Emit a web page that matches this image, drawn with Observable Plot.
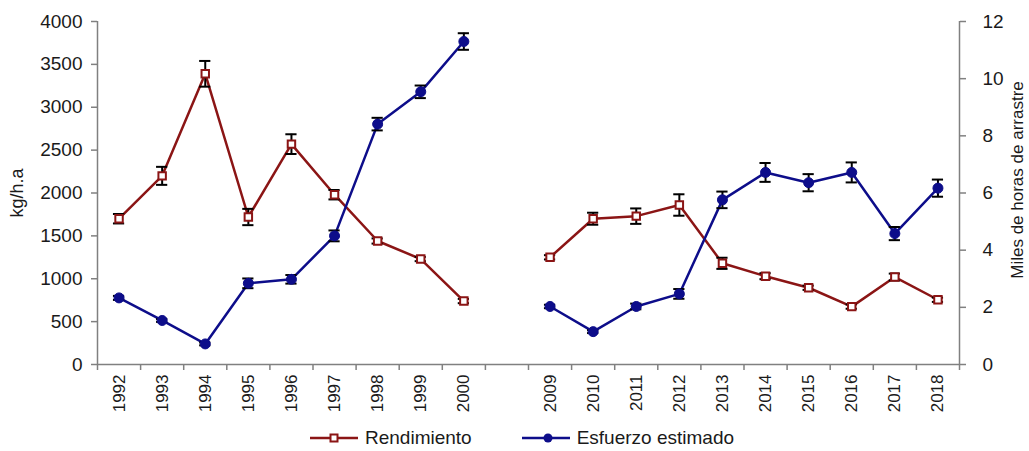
<!DOCTYPE html>
<html>
<head>
<meta charset="utf-8">
<script src="https://cdn.jsdelivr.net/npm/d3@7"></script>
<script src="https://cdn.jsdelivr.net/npm/@observablehq/plot@0.6"></script>
<style>
  html, body { margin: 0; padding: 0; background: #fff; }
  body { width: 1029px; height: 451px; overflow: hidden; font-family: "Liberation Sans", Arial, sans-serif; color: #1a1a1a; }
  #legend { display: flex; justify-content: center; align-items: center; height: 27px; padding-top: 4px; padding-left: 15px; font-size: 19px; }
  #legend .item { display: flex; align-items: center; }
  #legend svg { display: block; }
</style>
</head>
<body>
<div id="chart"></div>
<div id="legend"></div>
<script>
// Year slots (null = empty gap slot between 2000 and 2009)
const years = [1992, 1993, 1994, 1995, 1996, 1997, 1998, 1999, 2000, null,
               2009, 2010, 2011, 2012, 2013, 2014, 2015, 2016, 2017, 2018];
// Rendimiento (kg/h.a), left axis
const rendimiento = [1700, 2200, 3390, 1720, 2570, 1980, 1440, 1230, 740, null,
                     1250, 1700, 1730, 1860, 1180, 1030, 895, 675, 1020, 755];
const rendimientoErr = [55, 105, 150, 95, 115, 55, 30, 25, 25, null,
                        25, 70, 90, 125, 65, 35, 25, 25, 40, 25];
// Esfuerzo estimado (miles de horas de arrastre), right axis
const esfuerzo = [2.33, 1.54, 0.72, 2.84, 2.98, 4.50, 8.41, 9.54, 11.30, null,
                  2.03, 1.15, 2.03, 2.47, 5.76, 6.72, 6.36, 6.72, 4.58, 6.17];
const esfuerzoErr = [0.07, 0.05, 0.05, 0.17, 0.15, 0.19, 0.22, 0.22, 0.29, null,
                     0.06, 0.05, 0.10, 0.17, 0.29, 0.33, 0.30, 0.35, 0.23, 0.30];
const leftTicks = [0, 500, 1000, 1500, 2000, 2500, 3000, 3500, 4000];
const rightTicks = [0, 2, 4, 6, 8, 10, 12];
const seriesNames = ["Rendimiento", "Esfuerzo estimado"];
const leftLabel = "kg/h.a";
const rightLabel = "Miles de horas de arrastre";

const RED = "#8b1515";
const BLUE = "#0d0d8a";
const AXIS = "#808080";
const k = 4000 / 12; // right-axis units -> left-axis units

const rows = years.map((year, i) => ({
  i, year,
  r: rendimiento[i], rErr: rendimientoErr[i],
  e: esfuerzo[i] == null ? null : esfuerzo[i] * k,
  eErr: esfuerzoErr[i] == null ? null : esfuerzoErr[i] * k
}));
const valid = rows.filter(d => d.year != null);
const capHalf = 0.13;

const chart = Plot.plot({
  width: 1029,
  height: 420,
  marginLeft: 97,
  marginRight: 70,
  marginTop: 21,
  marginBottom: 56,
  style: { fontFamily: "'Liberation Sans', Arial, sans-serif", color: "#1a1a1a", background: "#fff" },
  x: { type: "linear", domain: [-0.5, years.length - 0.5] },
  y: { domain: [0, 4000] },
  marks: [
    // axes lines
    Plot.ruleY([0], { stroke: AXIS, strokeWidth: 1.5 }),
    Plot.ruleX([-0.5, years.length - 0.5], { stroke: AXIS, strokeWidth: 1.5 }),
    // left axis
    Plot.axisY({ anchor: "left", ticks: leftTicks, tickFormat: d => String(d), tickSize: 6, tickPadding: 9, fontSize: 19, label: null, stroke: AXIS, strokeWidth: 1.5 }),
    // right axis
    Plot.axisY({ anchor: "right", ticks: rightTicks.map(v => v * k), tickFormat: v => String(Math.round(v / k)),
                 tickSize: 6, tickPadding: 17, fontSize: 19, label: null, stroke: AXIS, strokeWidth: 1.5 }),
    // x tick marks at slot boundaries
    Plot.axisX({ ticks: d3.range(years.length + 1).map(j => j - 0.5), tickSize: 6, tickFormat: () => "", label: null, stroke: AXIS, strokeWidth: 1.5 }),
    // x labels at slot centres
    Plot.axisX({ ticks: valid.map(d => d.i), tickFormat: j => String(years[j]), tickSize: 0, tickPadding: 10,
                 tickRotate: -90, fontSize: 17, label: null }),
    // axis titles
    Plot.text([leftLabel], { frameAnchor: "left", textAnchor: "middle", dx: -80, rotate: -90, fontSize: 18, fill: "#1a1a1a" }),
    Plot.text([rightLabel], { frameAnchor: "right", textAnchor: "middle", dx: 58, dy: -13, rotate: -90, fontSize: 17, fill: "#1a1a1a" }),
    // lines
    Plot.line(rows, { x: "i", y: "r", stroke: RED, strokeWidth: 2.5 }),
    Plot.line(rows, { x: "i", y: "e", stroke: BLUE, strokeWidth: 2.5 }),
    // error bars
    Plot.ruleX(valid, { x: "i", y1: d => d.r - d.rErr, y2: d => d.r + d.rErr, stroke: "#000", strokeWidth: 2 }),
    Plot.ruleY(valid, { y: d => d.r - d.rErr, x1: d => d.i - capHalf, x2: d => d.i + capHalf, stroke: "#000", strokeWidth: 2 }),
    Plot.ruleY(valid, { y: d => d.r + d.rErr, x1: d => d.i - capHalf, x2: d => d.i + capHalf, stroke: "#000", strokeWidth: 2 }),
    Plot.ruleX(valid, { x: "i", y1: d => d.e - d.eErr, y2: d => d.e + d.eErr, stroke: "#000", strokeWidth: 2 }),
    Plot.ruleY(valid, { y: d => d.e - d.eErr, x1: d => d.i - capHalf, x2: d => d.i + capHalf, stroke: "#000", strokeWidth: 2 }),
    Plot.ruleY(valid, { y: d => d.e + d.eErr, x1: d => d.i - capHalf, x2: d => d.i + capHalf, stroke: "#000", strokeWidth: 2 }),
    // markers
    Plot.dot(valid, { x: "i", y: "r", symbol: "square", r: 4.2, fill: "#fff", stroke: RED, strokeWidth: 2 }),
    Plot.dot(valid, { x: "i", y: "e", symbol: "circle", r: 5, fill: BLUE, stroke: BLUE, strokeWidth: 1 })
  ]
});
document.getElementById("chart").appendChild(chart);

// legend
const legend = d3.select("#legend");
function addItem(name, color, marker, gapAfter) {
  const item = legend.append("div").attr("class", "item").style("margin-right", gapAfter + "px");
  const svg = item.append("svg").attr("width", 48).attr("height", 14);
  svg.append("line").attr("x1", 0).attr("x2", 48).attr("y1", 7).attr("y2", 7).attr("stroke", color).attr("stroke-width", 2.5);
  if (marker === "square") {
    svg.append("rect").attr("x", 20.5).attr("y", 3.5).attr("width", 7).attr("height", 7).attr("fill", "#fff").attr("stroke", color).attr("stroke-width", 2);
  } else {
    svg.append("circle").attr("cx", 26).attr("cy", 7).attr("r", 4.5).attr("fill", color);
  }
  item.append("span").style("margin-left", "7px").text(name);
}
addItem(seriesNames[0], RED, "square", 50);
addItem(seriesNames[1], BLUE, "circle", 0);
</script>
</body>
</html>
